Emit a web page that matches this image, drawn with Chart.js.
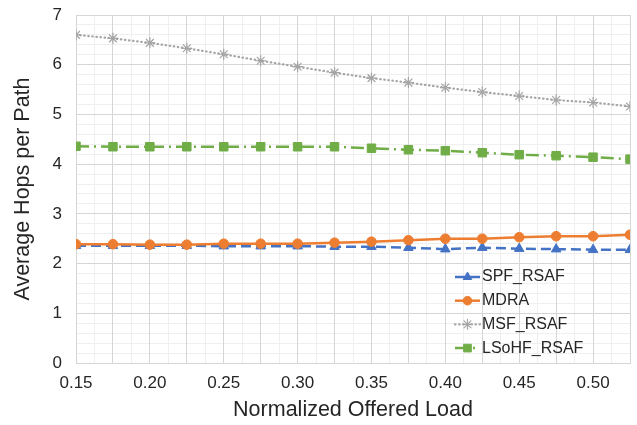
<!DOCTYPE html>
<html>
<head>
<meta charset="utf-8">
<script src="https://cdn.jsdelivr.net/npm/chart.js@4.4.1/dist/chart.umd.min.js"></script>
<style>
html,body{margin:0;padding:0;background:#ffffff;}
#wrap{width:637px;height:425px;position:relative;}
</style>
</head>
<body>
<div id="wrap"><canvas id="c"></canvas></div>
<script>
// ---- data ----
const loads = [0.15,0.175,0.20,0.225,0.25,0.275,0.30,0.325,0.35,0.375,0.40,0.425,0.45,0.475,0.50,0.525];
const spfRsaf = [2.36,2.36,2.36,2.36,2.35,2.35,2.35,2.34,2.34,2.32,2.29,2.32,2.30,2.29,2.28,2.28];
const mdra = [2.39,2.39,2.38,2.38,2.40,2.40,2.40,2.42,2.44,2.47,2.50,2.50,2.53,2.55,2.55,2.58];
const msfRsaf = [6.60,6.53,6.44,6.33,6.21,6.08,5.96,5.84,5.73,5.64,5.54,5.45,5.37,5.29,5.24,5.16];
const lsohfRsaf = [4.36,4.35,4.35,4.35,4.35,4.35,4.35,4.35,4.32,4.29,4.27,4.23,4.19,4.17,4.14,4.10];
const xTickLabels = ['0.15','0.20','0.25','0.30','0.35','0.40','0.45','0.50'];
const yTickLabels = ['0','1','2','3','4','5','6','7'];
const seriesNames = ['SPF_RSAF','MDRA','MSF_RSAF','LSoHF_RSAF'];

const FONT = "'Liberation Sans', Arial, sans-serif";
const MAJOR = '#d6d6d6';
const MINOR = '#efefef';
const TXT = '#262626';

function pts(vals){ return loads.map((x,i)=>({x:x,y:vals[i]})); }

const datasets = [
  {label:seriesNames[0], data:pts(spfRsaf), borderColor:'#4472C4', backgroundColor:'#4472C4',
   borderWidth:2.5, borderDash:[10,5], pointStyle:'triangle', pointRadius:5.5, pointBorderWidth:1, order:1},
  {label:seriesNames[1], data:pts(mdra), borderColor:'#ED7D31', backgroundColor:'#ED7D31',
   borderWidth:2.5, borderDash:[], pointStyle:'circle', pointRadius:4.8, pointBorderWidth:1, order:0},
  {label:seriesNames[2], data:pts(msfRsaf), borderColor:'#A5A5A5', backgroundColor:'#A5A5A5',
   borderWidth:2.2, borderDash:[0.5,3.6], borderCapStyle:'round', pointStyle:'star', pointRadius:5.5, pointBorderWidth:1.2, order:2},
  {label:seriesNames[3], data:pts(lsohfRsaf), borderColor:'#70AD47', backgroundColor:'#70AD47',
   borderWidth:2.5, borderDash:[13,5,2,5], pointStyle:'rect', pointRadius:6, pointBorderWidth:1, order:3}
];
datasets.forEach(d=>{ d.tension=0; d.fill=false; d.pointBorderColor=d.borderColor; d.pointBackgroundColor=d.backgroundColor; d.pointHoverRadius=d.pointRadius; });

const insideLegend = {
  id:'insideLegend',
  afterDraw(chart){
    const ctx = chart.ctx;
    const ca = chart.chartArea;
    const x0 = ca.right - 175, x1 = ca.right - 150, tx = ca.right - 148;
    const y0 = ca.top + 262, dy = 23.7;
    chart.data.datasets.forEach((ds,i)=>{
      const y = y0 + i*dy;
      ctx.save();
      ctx.strokeStyle = ds.borderColor;
      ctx.lineWidth = ds.borderWidth;
      ctx.lineCap = ds.borderCapStyle || 'butt';
      ctx.setLineDash(ds.borderDash || []);
      ctx.beginPath(); ctx.moveTo(x0,y); ctx.lineTo(x1,y); ctx.stroke();
      ctx.setLineDash([]);
      ctx.fillStyle = ds.backgroundColor;
      ctx.strokeStyle = ds.borderColor;
      ctx.lineWidth = ds.pointBorderWidth;
      if (Chart.helpers && Chart.helpers.drawPoint) {
        Chart.helpers.drawPoint(ctx, {pointStyle:ds.pointStyle, radius:ds.pointRadius*0.9, rotation:0, borderWidth:ds.pointBorderWidth}, (x0+x1)/2, y);
      }
      ctx.fillStyle = TXT;
      ctx.font = "16px " + FONT;
      ctx.textBaseline = 'middle';
      ctx.textAlign = 'left';
      ctx.fillText(ds.label, tx, y);
      ctx.restore();
    });
  }
};

new Chart(document.getElementById('c'), {
  type:'line',
  data:{datasets:datasets},
  options:{
    responsive:true, maintainAspectRatio:false, animation:false,
    layout:{padding:{top:15,right:7,left:0,bottom:0}},
    plugins:{legend:{display:false}, tooltip:{enabled:false}},
    scales:{
      xMinor:{type:'linear', position:'bottom', min:0.15, max:0.525,
        afterBuildTicks(ax){ const t=[]; for(let i=0;i<loads.length-1;i++){ t.push({value:(loads[i]+loads[i+1])/2}); } ax.ticks=t; },
        grid:{color:MINOR, lineWidth:1, drawTicks:false}, border:{display:false},
        ticks:{display:false}, afterFit(ax){ ax.height=0; ax.paddingLeft=0; ax.paddingRight=0; }},
      yMinor:{type:'linear', position:'left', min:0, max:7,
        afterBuildTicks(ax){ const t=[]; for(let k=0;k<35;k++){ if(k%5!==0) t.push({value:k/5}); } ax.ticks=t; },
        grid:{color:MINOR, lineWidth:1, drawTicks:false}, border:{display:false},
        ticks:{display:false}, afterFit(ax){ ax.width=0; ax.paddingTop=0; ax.paddingBottom=0; }},
      x:{type:'linear', position:'bottom', min:0.15, max:0.525,
        afterBuildTicks(ax){ ax.ticks = loads.map(v=>({value:v})); },
        grid:{color:MAJOR, lineWidth:1, drawTicks:false},
        border:{display:true, color:MAJOR, width:1},
        ticks:{autoSkip:false, maxRotation:0, padding:10, color:TXT, font:{family:FONT, size:17},
          callback:(v,i)=> (i%2===0 ? xTickLabels[i/2] : '')},
        title:{display:true, text:'Normalized Offered Load', color:TXT, font:{family:FONT, size:21.5}, padding:{top:0,bottom:2}},
        afterFit(ax){ ax.height=62; ax.paddingLeft=0; ax.paddingRight=0; }},
      y:{type:'linear', position:'left', min:0, max:7,
        afterBuildTicks(ax){ ax.ticks = yTickLabels.map(s=>({value:Number(s)})); },
        grid:{color:MAJOR, lineWidth:1, drawTicks:false},
        border:{display:true, color:MAJOR, width:1},
        ticks:{padding:14, color:TXT, font:{family:FONT, size:17}, callback:(v,i)=>yTickLabels[i]},
        title:{display:true, text:'Average Hops per Path', color:TXT, font:{family:FONT, size:21.5}, padding:{top:10,bottom:0}},
        afterFit(ax){ ax.width=76; ax.paddingTop=0; ax.paddingBottom=0; }}
    }
  },
  plugins:[insideLegend]
});
</script>
</body>
</html>
